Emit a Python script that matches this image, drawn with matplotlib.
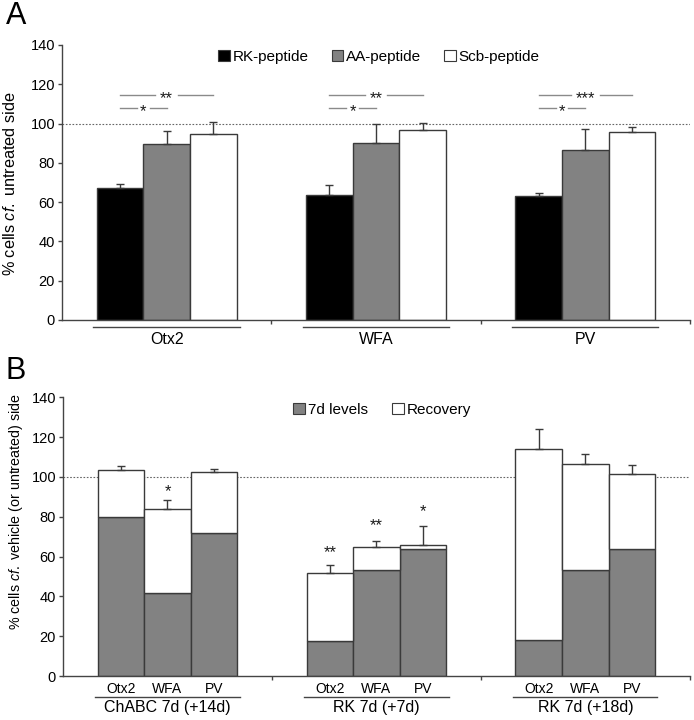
import matplotlib
matplotlib.use('Agg')
import matplotlib.pyplot as plt
import numpy as np
from matplotlib.patches import Patch
import matplotlib.transforms as mtransforms

plt.rcParams['font.family'] = ['Liberation Sans', 'DejaVu Sans']
plt.rcParams['mathtext.fontset'] = 'custom'
plt.rcParams['mathtext.it'] = 'Liberation Sans:italic'
plt.rcParams['mathtext.rm'] = 'Liberation Sans'

# ---------------- Panel A data ----------------
markers_a = ['Otx2', 'WFA', 'PV']
series_a = ['RK-peptide', 'AA-peptide', 'Scb-peptide']
rk_vals = [67.0, 63.6, 63.1]
rk_err = [2.2, 5.1, 1.7]
aa_vals = [89.4, 90.0, 86.7]
aa_err = [7.0, 9.8, 10.5]
scb_vals = [94.9, 96.7, 95.5]
scb_err = [5.7, 3.7, 2.8]
sig_wide = ['**', '**', '***']   # RK vs Scb
sig_narrow = ['*', '*', '*']     # RK vs AA
sig_wide_y = 114.5
sig_narrow_y = 107.9

# ---------------- Panel B data ----------------
groups_b = ['ChABC 7d (+14d)', 'RK 7d (+7d)', 'RK 7d (+18d)']
markers_b = ['Otx2', 'WFA', 'PV']
series_b = ['7d levels', 'Recovery']
levels_7d = [[80.0, 41.8, 71.8], [17.8, 53.2, 64.0], [18.0, 53.3, 63.9]]
recovery = [[23.6, 42.0, 30.6], [34.1, 11.6, 1.7], [95.9, 53.1, 37.5]]
recovery_err = [[2.0, 4.6, 1.8], [3.7, 3.0, 9.8], [10.2, 5.2, 4.6]]
stars_b = [['', '*', ''], ['**', '**', '*'], ['', '', '']]
stars_b_y = [[0, 94.3, 0], [63.8, 77.4, 84.6], [0, 0, 0]]

yticks = [0, 20, 40, 60, 80, 100, 120, 140]

EDGE = '#3a3a3a'
GRAY = '#828282'
AXC = '#444444'

fig = plt.figure(figsize=(6.94, 7.2), dpi=100)
axA = fig.add_axes([0.0893, 0.5556, 0.9047, 0.3819])
axB = fig.add_axes([0.0908, 0.0611, 0.9032, 0.3871])

W = 0.223
offs = [-W, 0.0, W]


def style_axes(ax):
    for s in ['top', 'right']:
        ax.spines[s].set_visible(False)
    for s in ['left', 'bottom']:
        ax.spines[s].set_color(AXC)
        ax.spines[s].set_linewidth(1.0)
    ax.set_ylim(0, 140)
    ax.set_xlim(-0.5, 2.5)
    ax.set_yticks(yticks)
    ax.tick_params(axis='y', direction='out', length=3, width=1, color=AXC,
                   labelsize=10.5, pad=2)
    ax.set_xticks([0.5, 1.5, 2.5])
    ax.tick_params(axis='x', which='major', direction='out', length=3, width=1,
                   color=AXC, labelbottom=False)
    ax.axhline(100, color='#666666', lw=0.8, ls=(0, (1.5, 1.5)), zorder=1)


def star(ax, x, y, s):
    ax.annotate(s, (x, y), xytext=(0, -6.0), textcoords='offset points',
                ha='center', va='baseline', fontsize=12, color='#1a1a1a',
                annotation_clip=False)


# ---------------- Panel A ----------------
style_axes(axA)
xa = np.arange(len(markers_a))
ekw = dict(elinewidth=1.0, ecolor=EDGE, capthick=1.0)
vals = [rk_vals, aa_vals, scb_vals]
errs = [rk_err, aa_err, scb_err]
cols = ['black', GRAY, 'white']
for i in range(3):
    axA.bar(xa + offs[i], vals[i], W, color=cols[i], edgecolor=EDGE, lw=1.0,
            yerr=[np.zeros(3), errs[i]], capsize=2.6, error_kw=ekw, zorder=2,
            label=series_a[i])

axA.set_xticks(xa, minor=True)
axA.set_xticklabels(markers_a, minor=True)
axA.tick_params(axis='x', which='minor', length=0, labelsize=11.5, pad=9)

tA = mtransforms.blended_transform_factory(axA.transData, axA.transAxes)
for c in xa:
    axA.plot([c - 0.35, c + 0.35], [-0.0255, -0.0255], color=AXC, lw=1.0,
             transform=tA, clip_on=False)

# significance brackets
for c in xa:
    x1, x2, x3 = c - W, c, c + W
    gw = {'**': 0.054, '***': 0.07}[sig_wide[c]]
    axA.plot([x1, x2 - gw], [sig_wide_y] * 2, color='#8a8a8a', lw=1.0)
    axA.plot([x2 + gw, x3], [sig_wide_y] * 2, color='#8a8a8a', lw=1.0)
    star(axA, x2, sig_wide_y, sig_wide[c])
    xm = (x1 + x2) / 2
    g = 0.03
    axA.plot([x1, xm - g], [sig_narrow_y] * 2, color='#8a8a8a', lw=1.0)
    axA.plot([xm + g, x2], [sig_narrow_y] * 2, color='#8a8a8a', lw=1.0)
    star(axA, xm, sig_narrow_y, sig_narrow[c])

fig.text(0.0137, 1 - 183.5 / 720, r'% cells $\mathit{cf.}$ untreated side',
         rotation=90, ha='center', va='center', fontsize=11.7)
handlesA = [Patch(facecolor=cols[i], edgecolor=EDGE, lw=0.8) for i in range(3)]
fig.legend(handlesA, series_a, loc='center', bbox_to_anchor=(0.546, 0.921),
           ncol=3, frameon=False, fontsize=11, handlelength=0.75,
           handleheight=0.75, handletextpad=0.2, columnspacing=1.5)
fig.text(0.008, 0.999, 'A', fontsize=22, va='top', ha='left')

# ---------------- Panel B ----------------
style_axes(axB)
xb_all = []
for g in range(3):
    xs = np.array([g + o for o in offs])
    xb_all.extend(xs)
    axB.bar(xs, levels_7d[g], W, color=GRAY, edgecolor=EDGE, lw=1.0, zorder=2)
    axB.bar(xs, recovery[g], W, bottom=levels_7d[g], color='white',
            edgecolor=EDGE, lw=1.0, zorder=2,
            yerr=[np.zeros(3), recovery_err[g]], capsize=2.6, error_kw=ekw)
    for j in range(3):
        if stars_b[g][j]:
            star(axB, xs[j], stars_b_y[g][j], stars_b[g][j])

axB.set_xticks(xb_all, minor=True)
axB.set_xticklabels(markers_b * 3, minor=True)
axB.tick_params(axis='x', which='minor', length=0, labelsize=10, pad=4)

tB = mtransforms.blended_transform_factory(axB.transData, axB.transAxes)
for g in range(3):
    axB.plot([g - 0.345, g + 0.345], [-0.0754, -0.0754], color=AXC, lw=1.0,
             transform=tB, clip_on=False)
    axB.text(g, -0.113, groups_b[g], transform=tB, ha='center', va='center',
             fontsize=11.5)

fig.text(0.0225, 1 - 511.5 / 720,
         r'% cells $\mathit{cf.}$ vehicle (or untreated) side',
         rotation=90, ha='center', va='center', fontsize=10.3)
handlesB = [Patch(facecolor=GRAY, edgecolor=EDGE, lw=0.8),
            Patch(facecolor='white', edgecolor=EDGE, lw=0.8)]
fig.legend(handlesB, series_b, loc='center', bbox_to_anchor=(0.551, 0.431),
           ncol=2, frameon=False, fontsize=11, handlelength=0.75,
           handleheight=0.75, handletextpad=0.2, columnspacing=1.6)
fig.text(0.008, 0.506, 'B', fontsize=22, va='top', ha='left')

fig.savefig('out.png', dpi=100)
